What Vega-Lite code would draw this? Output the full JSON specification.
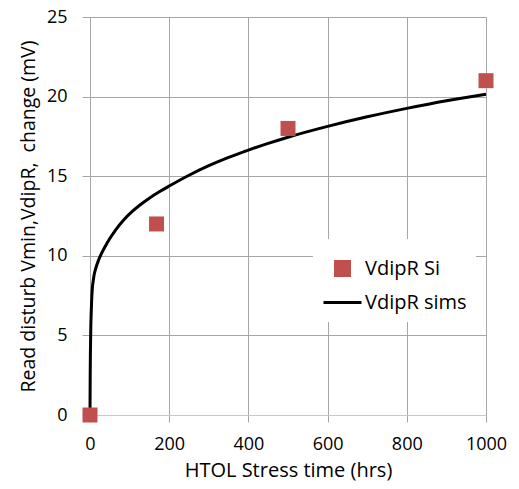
{
  "$schema": "https://vega.github.io/schema/vega-lite/v6.json",
  "width": 396,
  "height": 398,
  "autosize": "none",
  "padding": {"left": 90, "top": 17, "right": 33, "bottom": 74},
  "background": "white",
  "config": {"view": {"stroke": null}, "font": "Open Sans"},
  "datasets": {
    "si": [
      {"series": "VdipR Si", "t": 0, "v": 0},
      {"series": "VdipR Si", "t": 168, "v": 12},
      {"series": "VdipR Si", "t": 500, "v": 18},
      {"series": "VdipR Si", "t": 1000, "v": 21}
    ],
    "sims": [
      {"series": "VdipR sims", "t": 0, "v": 0},
      {"series": "VdipR sims", "t": 0.5, "v": 2.5},
      {"series": "VdipR sims", "t": 1, "v": 3.8},
      {"series": "VdipR sims", "t": 2, "v": 5.5},
      {"series": "VdipR sims", "t": 3, "v": 6.4},
      {"series": "VdipR sims", "t": 4, "v": 7.1},
      {"series": "VdipR sims", "t": 5, "v": 7.6},
      {"series": "VdipR sims", "t": 6, "v": 8.0},
      {"series": "VdipR sims", "t": 8, "v": 8.4},
      {"series": "VdipR sims", "t": 10, "v": 8.75},
      {"series": "VdipR sims", "t": 15, "v": 9.25},
      {"series": "VdipR sims", "t": 22, "v": 9.75},
      {"series": "VdipR sims", "t": 30, "v": 10.2},
      {"series": "VdipR sims", "t": 43, "v": 10.8},
      {"series": "VdipR sims", "t": 64, "v": 11.6},
      {"series": "VdipR sims", "t": 85, "v": 12.25},
      {"series": "VdipR sims", "t": 106, "v": 12.77},
      {"series": "VdipR sims", "t": 127, "v": 13.21},
      {"series": "VdipR sims", "t": 148, "v": 13.59},
      {"series": "VdipR sims", "t": 175, "v": 14.02},
      {"series": "VdipR sims", "t": 200, "v": 14.38},
      {"series": "VdipR sims", "t": 250, "v": 15.06},
      {"series": "VdipR sims", "t": 300, "v": 15.66},
      {"series": "VdipR sims", "t": 350, "v": 16.18},
      {"series": "VdipR sims", "t": 400, "v": 16.64},
      {"series": "VdipR sims", "t": 450, "v": 17.06},
      {"series": "VdipR sims", "t": 500, "v": 17.45},
      {"series": "VdipR sims", "t": 600, "v": 18.13},
      {"series": "VdipR sims", "t": 700, "v": 18.73},
      {"series": "VdipR sims", "t": 800, "v": 19.26},
      {"series": "VdipR sims", "t": 900, "v": 19.74},
      {"series": "VdipR sims", "t": 1000, "v": 20.15}
    ]
  },
  "encoding": {
    "x": {
      "field": "t", "type": "quantitative",
      "scale": {"domain": [0, 1000], "nice": false, "zero": false},
      "axis": {
        "title": "HTOL Stress time (hrs)", "values": [0, 200, 400, 600, 800, 1000], "format": "d",
        "labelFlush": false, "labelOverlap": false,
        "grid": true, "gridColor": "#a6a6a6", "gridWidth": 1,
        "domainColor": "#c8c8c8", "tickColor": "#a6a6a6", "tickSize": 7,
        "labelFontSize": 18, "labelColor": "#000000", "labelPadding": 13, "labelFont": "Open Sans",
        "titleFontSize": 20, "titleFontWeight": "normal", "titleColor": "#000000", "titlePadding": 7, "titleFont": "Open Sans"
      }
    },
    "y": {
      "field": "v", "type": "quantitative",
      "scale": {"domain": [0, 25], "nice": false},
      "axis": {
        "title": "Read disturb Vmin,VdipR,\u00a0 change (mV)", "values": [0, 5, 10, 15, 20, 25],
        "labelFlush": false,
        "grid": true, "gridColor": "#a6a6a6", "gridWidth": 1,
        "domainColor": "#a6a6a6", "tickColor": "#a6a6a6", "tickSize": 8,
        "labelFontSize": 18, "labelColor": "#000000", "labelPadding": 15, "labelFont": "Open Sans",
        "titleFontSize": 19.5, "titleFontWeight": "normal", "titleColor": "#000000", "titlePadding": 8, "titleFont": "Open Sans"
      }
    },
    "color": {
      "field": "series", "type": "nominal",
      "scale": {"domain": ["VdipR Si", "VdipR sims"], "range": ["#C0504D", "#000000"]},
      "legend": {
        "orient": "none", "legendX": 223, "legendY": 222,
        "fillColor": "white", "padding": 9, "title": null,
        "labelFontSize": 20, "labelFont": "Open Sans", "labelColor": "#000000",
        "labelOffset": 2, "symbolSize": 1444, "symbolStrokeWidth": 3, "rowPadding": 0,
        "encode": {
          "symbols": {
            "update": {
              "shape": {"signal": "datum.value === 'VdipR Si' ? 'square' : 'stroke'"},
              "size": {"signal": "datum.value === 'VdipR Si' ? 196 : 1444"},
              "fill": {"signal": "datum.value === 'VdipR Si' ? '#C0504D' : 'transparent'"},
              "stroke": {"signal": "datum.value === 'VdipR Si' ? 'transparent' : '#000000'"},
              "strokeWidth": {"value": 3},
              "opacity": {"value": 1}
            }
          }
        }
      }
    }
  },
  "layer": [
    {
      "data": {"name": "sims"},
      "mark": {"type": "line", "strokeWidth": 3, "interpolate": "monotone"}
    },
    {
      "data": {"name": "si"},
      "mark": {"type": "square", "size": 225, "opacity": 1}
    }
  ]
}
